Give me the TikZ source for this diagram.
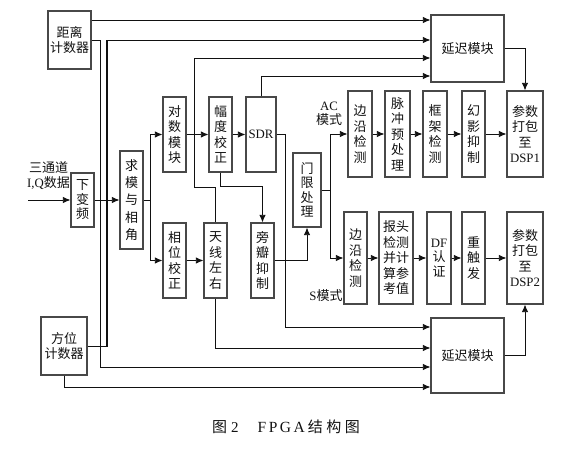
\documentclass[tikz,border=0pt]{standalone}
\usepackage{fontspec}
\setmainfont{Liberation Serif}
\newfontfamily\zhfont{Noto Sans CJK SC}
\usetikzlibrary{arrows.meta,calc}
\newcommand\zh{\zhfont\fontsize{13}{15.5}\selectfont}
\newcommand\en{\rmfamily\fontsize{12.8}{15.5}\selectfont}
\definecolor{boxc}{HTML}{484848}
\definecolor{txtc}{HTML}{111111}
\definecolor{linec}{HTML}{111111}
\begin{document}
\begin{tikzpicture}[x=1pt,y=-1pt,
  blk/.style={draw=boxc, line width=1.2pt, inner sep=0pt, align=center, font=\zh, text=txtc},
  arr/.style={-{Latex[length=7.5pt,width=6.5pt]}, draw=linec, line width=0.8pt},
  ln/.style={draw=linec, line width=0.8pt},
  lbl/.style={inner sep=0pt, align=center, font=\zh, text=txtc},
]
\useasboundingbox (0,0) rectangle (575,457);

% ---- blocks
\node[blk, minimum width=43pt, minimum height=58pt] (dist) at (69.5,40) {距离\\计数器};
\node[blk, minimum width=46pt, minimum height=58pt] (azim) at (64,346) {方位\\计数器};
\node[blk, minimum width=23pt, minimum height=54pt, font=\zhfont\fontsize{13}{14.5}\selectfont] (down) at (82.5,200) {下\\变\\频};
\node[blk, minimum width=23pt, minimum height=98pt, font=\zhfont\fontsize{13}{17.2}\selectfont] (modang) at (131.5,200) {求\\模\\与\\相\\角};
\node[blk, minimum width=23pt, minimum height=75pt] (log) at (174.5,134.5) {对\\数\\模\\块};
\node[blk, minimum width=23pt, minimum height=75pt] (ampc) at (220.5,134.5) {幅\\度\\校\\正};
\node[blk, minimum width=30pt, minimum height=75pt] (sdr) at (261,134.5) {\en SDR};
\node[blk, minimum width=23pt, minimum height=75pt] (phc) at (174.5,260.5) {相\\位\\校\\正};
\node[blk, minimum width=23pt, minimum height=75pt] (ant) at (215.5,260.5) {天\\线\\左\\右};
\node[blk, minimum width=23pt, minimum height=75pt] (side) at (262.5,260.5) {旁\\瓣\\抑\\制};
\node[blk, minimum width=28pt, minimum height=74pt, font=\zhfont\fontsize{13}{14.5}\selectfont] (thr) at (307,190) {门\\限\\处\\理};

\node[blk, minimum width=24pt, minimum height=86pt] (ace) at (360,134) {边\\沿\\检\\测};
\node[blk, minimum width=25pt, minimum height=86pt] (pulse) at (397.5,134) {脉\\冲\\预\\处\\理};
\node[blk, minimum width=24pt, minimum height=86pt] (frame) at (435,134) {框\\架\\检\\测};
\node[blk, minimum width=23pt, minimum height=86pt] (ghost) at (473.5,134) {幻\\影\\抑\\制};
\node[blk, minimum width=36pt, minimum height=86pt] (dsp1) at (525,134) {参数\\打包\\至\\{\en DSP1}};

\node[blk, minimum width=23pt, minimum height=92pt] (se) at (355.5,258) {边\\沿\\检\\测};
\node[blk, minimum width=34pt, minimum height=92pt] (hdr) at (396,258) {报头\\检测\\并计\\算参\\考值};
\node[blk, minimum width=24pt, minimum height=92pt, font=\zhfont\fontsize{13}{14.5}\selectfont] (df) at (439,258) {{\en DF}\\认\\证};
\node[blk, minimum width=23pt, minimum height=92pt] (retrig) at (473.5,258) {重\\触\\发};
\node[blk, minimum width=36pt, minimum height=92pt] (dsp2) at (525,258) {参数\\打包\\至\\{\en DSP2}};

\node[blk, minimum width=73pt, minimum height=67pt] (dl1) at (467.5,48.5) {延迟模块};
\node[blk, minimum width=73pt, minimum height=75pt] (dl2) at (467.5,355.5) {延迟模块};

% ---- labels
\node[lbl] (inlbl) at (48.5,175.5) {三通道\\{\en I,Q}数据};
\node[lbl, font=\zhfont\fontsize{13}{14}\selectfont] (aclbl) at (329,114) {{\en AC}\\模式};
\node[lbl] (slbl) at (326,296) {{\en S}模式};
\node[lbl, font=\zhfont\fontsize{15}{17}\selectfont] (cap) at (286,427)
  {图\hspace{4pt}{\rmfamily\fontsize{15}{17}\selectfont 2}\hspace{19pt}{\rmfamily\fontsize{15.5}{17}\selectfont F\hspace{2.5pt}P\hspace{2.5pt}G\hspace{2.5pt}A}\hspace{3pt}结\hspace{3.5pt}构\hspace{3.5pt}图};

% ---- helper levels
\coordinate (h20) at (0,20);
\coordinate (h40) at (0,40);
\coordinate (h58) at (0,58);
\coordinate (h76) at (0,76);
\coordinate (h186) at (0,186);
\coordinate (h187) at (0,187);
\coordinate (h327) at (0,327);
\coordinate (h348) at (0,348);
\coordinate (h367) at (0,367);
\coordinate (h387) at (0,387);
\coordinate (v100) at (100,0);
\coordinate (v107) at (107,0);
\coordinate (v194) at (194,0);
\coordinate (v285) at (285,0);
\coordinate (in) at (28,200);
\coordinate (sp1) at (150,200);
\coordinate (sp2) at (330,190);

% ---- main path
\draw[arr] (in) -- (down.west);
\draw[arr] (down.east) -- (modang.west);
\draw[ln] (modang.east) -- (sp1);
\draw[arr] (sp1) |- (log.west);
\draw[arr] (sp1) |- (phc.west);
\draw[arr] (log.east) -- (ampc.west);
\draw[arr] (ampc.east) -- (sdr.west);
\draw[arr] (phc.east) -- (ant.west);
\draw[arr] (ampc.south) -- (ampc.south |- h186) -- (side.north |- h186) -- (side.north);
\draw[arr] (side.east) -| (thr.south);
\draw[ln] (thr.east) -- (sp2);
\draw[arr] (sp2) |- (ace.west);
\draw[arr] (sp2) |- (se.west);

\draw[arr] (ace.east) -- (pulse.west);
\draw[arr] (pulse.east) -- (frame.west);
\draw[arr] (frame.east) -- (ghost.west);
\draw[arr] (ghost.east) -- (dsp1.west);
\draw[arr] (se.east) -- (hdr.west);
\draw[arr] (hdr.east) -- (df.west);
\draw[arr] (df.east) -- (retrig.west);
\draw[arr] (retrig.east) -- (dsp2.west);

\draw[arr] (dl1.east) -| (dsp1.north);
\draw[arr] (dl2.east) -| (dsp2.south);

% ---- delay inputs
\draw[arr] (dist.east |- h20) -- (dl1.west |- h20);
\draw[arr] (dist.east) -- (v100 |- dist.east) -- (v100 |- h367) -- (dl2.west |- h367);
\draw[arr] (azim.east) -- (v107 |- azim.east) -- (v107 |- h40) -- (dl1.west |- h40);
\draw[draw=linec, line width=1.7pt] (v107 |- azim.east) -- (v107 |- h40);
\draw[arr] (ant.north) -- (ant.north |- h187) -- (v194 |- h187) -- (v194 |- h58) -- (dl1.west |- h58);
\draw[arr] (sdr.north) -- (sdr.north |- h76) -- (dl1.west |- h76);
\draw[arr] (sdr.east) -- (v285 |- sdr.east) -- (v285 |- h327) -- (dl2.west |- h327);
\draw[arr] (ant.south) -- (ant.south |- h348) -- (dl2.west |- h348);
\draw[arr] (azim.south) -- (azim.south |- h387) -- (dl2.west |- h387);
\end{tikzpicture}
\end{document}
